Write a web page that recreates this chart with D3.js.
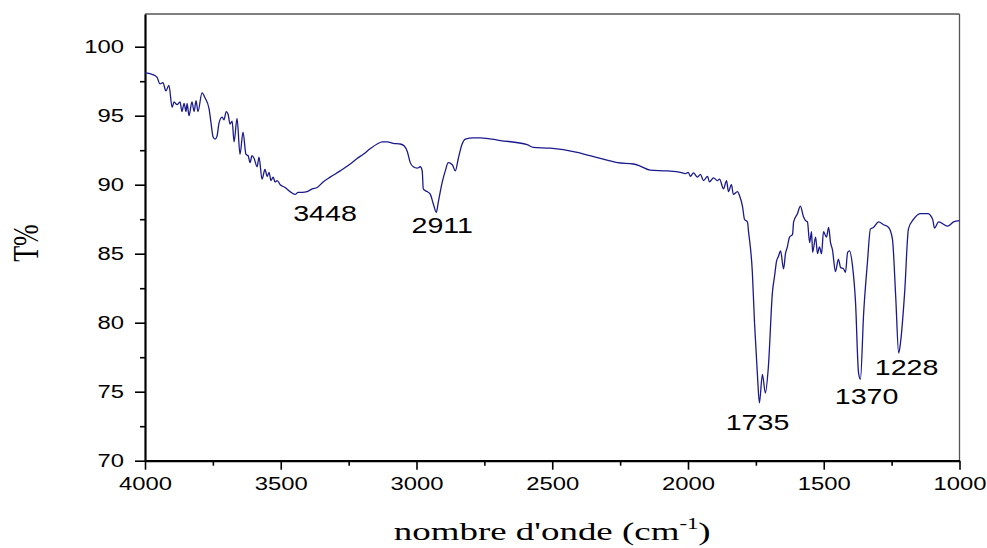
<!DOCTYPE html>
<html>
<head>
<meta charset="utf-8">
<script src="https://cdn.jsdelivr.net/npm/d3@7"></script>
<style>
  body { margin: 0; background: #fff; }
  svg { display: block; }
</style>
</head>
<body>
<div id="chart"></div>
<script>
// IR spectrum, wavenumber (cm-1) vs transmittance (%)
const wavenumber = [
  4000, 3974, 3956, 3945, 3934, 3923, 3912, 3900, 3893, 3882, 3871, 3864, 3856, 3849, 3845, 3838,
  3827, 3819, 3812, 3805, 3790, 3779, 3764, 3757, 3749, 3742, 3735, 3727, 3716, 3709, 3701, 3694,
  3687, 3679, 3672, 3661, 3650, 3639, 3628, 3620, 3613, 3606, 3598, 3587, 3580, 3569, 3558, 3550,
  3543, 3536, 3528, 3521, 3513, 3502, 3484, 3466, 3447, 3436, 3421, 3403, 3384, 3366, 3344, 3318,
  3281, 3244, 3219, 3196, 3171, 3145, 3126, 3108, 3086, 3060, 3045, 3034, 3023, 3012, 2997, 2986,
  2979, 2975, 2961, 2949, 2938, 2927, 2920, 2905, 2894, 2883, 2868, 2857, 2846, 2832, 2820, 2791,
  2765, 2691, 2592, 2570, 2507, 2408, 2323, 2260, 2201, 2176, 2139, 2076, 2028, 2010, 1999, 1991,
  1980, 1965, 1954, 1943, 1928, 1921, 1906, 1892, 1884, 1869, 1858, 1851, 1840, 1833, 1818, 1810,
  1799, 1792, 1781, 1777, 1763, 1755, 1744, 1737, 1726, 1715, 1704, 1689, 1681, 1674, 1667, 1659,
  1648, 1641, 1634, 1626, 1615, 1611, 1597, 1586, 1575, 1567, 1560, 1552, 1545, 1541, 1530, 1523,
  1516, 1508, 1501, 1490, 1482, 1475, 1468, 1457, 1446, 1438, 1427, 1420, 1412, 1405, 1394, 1383,
  1372, 1365, 1353, 1339, 1328, 1317, 1298, 1280, 1261, 1247, 1235, 1224, 1217, 1202, 1188, 1169,
  1143, 1117, 1099, 1092, 1077, 1044, 1022, 1000
]
const transmittance = [
  98.1, 98.0, 97.8, 97.3, 97.4, 96.8, 97.2, 95.6, 96.0, 95.8, 96.0, 95.3, 95.9, 95.3, 95.9, 95.0,
  96.0, 95.3, 96.1, 95.3, 96.65, 96.3, 95.5, 94.5, 93.45, 93.3, 93.5, 94.5, 94.9, 94.7, 95.3, 95.1,
  94.4, 94.6, 93.1, 94.8, 92.2, 93.8, 92.2, 92.1, 91.6, 92.1, 91.9, 91.3, 92.0, 90.4, 91.1, 90.6,
  90.9, 90.3, 90.55, 90.2, 90.3, 90.0, 89.8, 89.5, 89.3, 89.45, 89.45, 89.5, 89.7, 89.8, 90.2, 90.55,
  91.0, 91.5, 91.9, 92.2, 92.6, 92.95, 93.1, 93.1, 93.0, 92.95, 92.8, 92.4, 91.6, 91.3, 91.2, 91.3,
  91.0, 89.7, 89.5, 89.3, 88.6, 88.0, 88.7, 90.2, 91.0, 91.6, 91.45, 91.0, 91.9, 92.95, 93.3, 93.4,
  93.4, 93.2, 92.9, 92.7, 92.65, 92.35, 91.9, 91.6, 91.5, 91.35, 91.05, 91.0, 90.9, 90.8, 90.9, 90.6,
  90.85, 90.55, 90.75, 90.3, 90.6, 90.2, 90.5, 90.3, 90.4, 89.7, 90.3, 89.5, 90.0, 89.3, 89.5, 89.2,
  88.4, 87.5, 87.3, 86.6, 83.65, 80.0, 76.1, 74.2, 76.25, 74.9, 76.8, 82.2, 83.4, 84.45, 84.8, 85.2,
  83.9, 85.0, 85.5, 86.2, 86.4, 87.3, 87.9, 88.45, 87.7, 87.4, 87.3, 85.8, 86.6, 85.1, 86.2, 85.0,
  85.5, 85.0, 86.6, 86.2, 86.9, 85.8, 85.3, 83.7, 84.6, 84.0, 83.9, 83.65, 85.1, 85.2, 84.1, 81.5,
  76.4, 75.9, 80.7, 84.4, 86.8, 86.9, 87.3, 87.1, 86.9, 86.05, 81.9, 77.8, 78.6, 82.2, 86.8, 87.5,
  87.9, 87.9, 87.5, 86.85, 87.3, 87.0, 87.3, 87.4
]
const xTicks = [4000, 3500, 3000, 2500, 2000, 1500, 1000]
const yTicks = [70, 75, 80, 85, 90, 95, 100]
const peakLabels = ['3448', '2911', '1735', '1370', '1228']
const peakLabelW = [3337, 2905, 1744, 1342, 1195]
const peakLabelT = [87.4, 86.5, 72.25, 74.1, 76.2]

const width = 987
const height = 548
const margin = { top: 14, right: 27.5, bottom: 87.3, left: 145 }
const innerWidth = width - margin.left - margin.right
const innerHeight = height - margin.top - margin.bottom
const stretch = 1.36 // the original text is drawn wide

const svg = d3.select('#chart').append('svg')
  .attr('width', width)
  .attr('height', height)

const g = svg.append('g')
  .attr('transform', `translate(${margin.left},${margin.top})`)

const x = d3.scaleLinear().domain([4000, 1000]).range([0, innerWidth])
const y = d3.scaleLinear().domain([70, 102.37]).range([innerHeight, 0])

// widen a text horizontally without moving its anchor
function widen (sel, k) {
  sel.each(function () {
    const w = this.getComputedTextLength()
    d3.select(this)
      .attr('textLength', w * k)
      .attr('lengthAdjust', 'spacingAndGlyphs')
  })
}

// frame (top / right)
g.append('line')
  .attr('x1', 0).attr('x2', innerWidth).attr('y1', 0).attr('y2', 0)
  .attr('stroke', '#555').attr('stroke-width', 1.3)
g.append('line')
  .attr('x1', innerWidth).attr('x2', innerWidth).attr('y1', 0).attr('y2', innerHeight)
  .attr('stroke', '#555').attr('stroke-width', 1.3)

// minor ticks (no labels)
const xMinor = d3.range(3750, 1000, -500)
const yMinor = d3.range(72.5, 100, 5)

g.append('g')
  .attr('transform', `translate(0,${innerHeight})`)
  .call(d3.axisBottom(x).tickValues(xMinor).tickSize(5))
  .call(a => a.select('.domain').remove())
  .call(a => a.selectAll('text').remove())
  .selectAll('line').attr('stroke', '#000').attr('stroke-width', 1.6)

g.append('g')
  .call(d3.axisLeft(y).tickValues(yMinor).tickSize(5))
  .call(a => a.select('.domain').remove())
  .call(a => a.selectAll('text').remove())
  .selectAll('line').attr('stroke', '#000').attr('stroke-width', 1.6)

// major axes
const xAxis = g.append('g')
  .attr('transform', `translate(0,${innerHeight})`)
  .call(d3.axisBottom(x).tickValues(xTicks).tickFormat(d3.format('d'))
    .tickSize(9).tickSizeOuter(0).tickPadding(8))
const yAxis = g.append('g')
  .call(d3.axisLeft(y).tickValues(yTicks).tickSize(10).tickSizeOuter(0).tickPadding(11))

for (const ax of [xAxis, yAxis]) {
  ax.select('.domain').attr('stroke', '#000').attr('stroke-width', 2.2)
  ax.selectAll('line').attr('stroke', '#000').attr('stroke-width', 1.6)
  ax.selectAll('text')
    .style('font-family', '"Liberation Sans", Arial, sans-serif')
    .style('font-size', '17.5px')
    .attr('fill', '#000')
    .call(widen, stretch)
}

// spectrum
const line = d3.line()
  .x((d, i) => x(wavenumber[i]))
  .y(d => y(d))
  .curve(d3.curveMonotoneX)

g.append('path')
  .datum(transmittance)
  .attr('d', line)
  .attr('fill', 'none')
  .attr('stroke', '#1a1a8e')
  .attr('stroke-width', 1.3)
  .attr('stroke-linejoin', 'round')

// peak labels
g.selectAll('.peak-label')
  .data(peakLabels)
  .enter().append('text')
  .attr('class', 'peak-label')
  .attr('x', (d, i) => x(peakLabelW[i]))
  .attr('y', (d, i) => y(peakLabelT[i]))
  .attr('text-anchor', 'middle')
  .style('font-family', '"Liberation Sans", Arial, sans-serif')
  .style('font-size', '22px')
  .attr('fill', '#000')
  .text(d => d)
  .call(widen, 1.3)

// axis titles
const xTitle = svg.append('text')
  .attr('x', margin.left + innerWidth / 2)
  .attr('y', 540)
  .attr('text-anchor', 'middle')
  .style('font-family', '"Liberation Serif", "Times New Roman", serif')
  .style('font-size', '26px')
  .attr('fill', '#000')
xTitle.append('tspan').text("nombre d'onde (cm")
xTitle.append('tspan').attr('dy', -11).style('font-size', '16px').text('-1')
xTitle.append('tspan').attr('dy', 11).text(')')
widen(xTitle, 1.42)

svg.append('text')
  .attr('transform', `translate(38,243) scale(${stretch},1) rotate(-90)`)
  .attr('text-anchor', 'middle')
  .style('font-family', '"Liberation Serif", "Times New Roman", serif')
  .style('font-size', '26px')
  .attr('fill', '#000')
  .text('T%')
</script>
</body>
</html>
